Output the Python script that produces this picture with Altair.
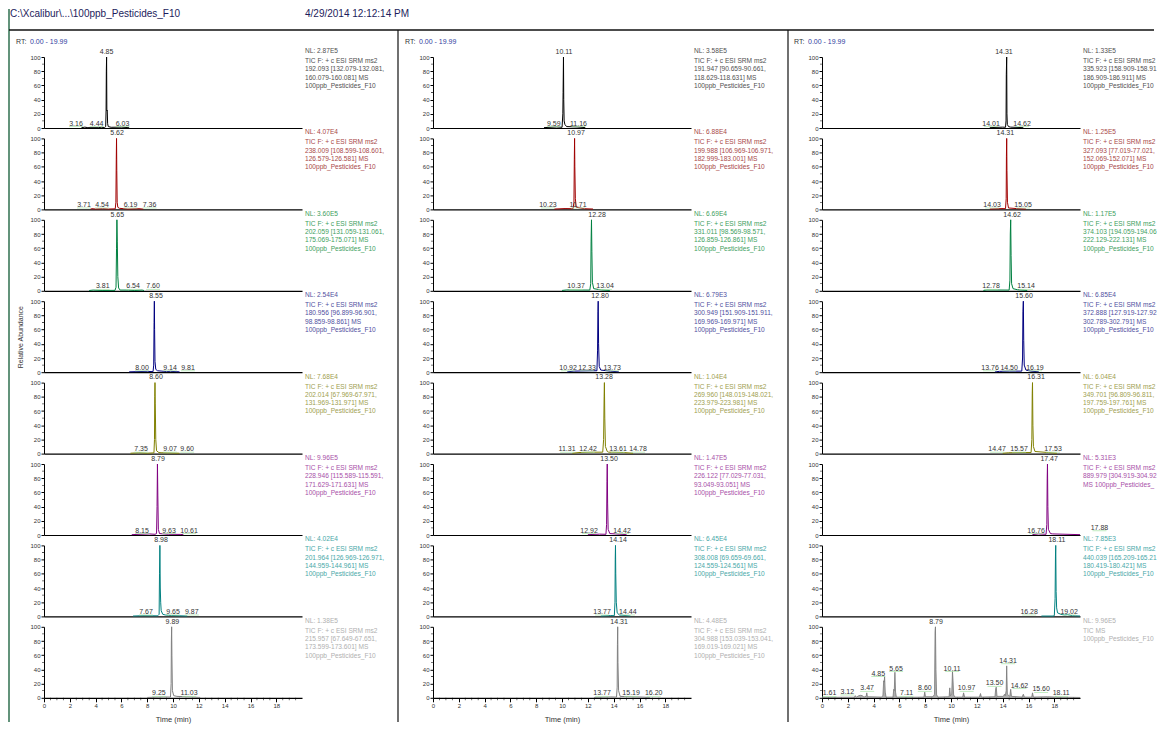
import altair as alt
import pandas as pd

FONT = "Liberation Sans"
W, H = 258, 71
XMAX = 19.99

TRACE_COLORS = ["#000000", "#a00000", "#008040", "#000080", "#808000", "#800080", "#008080", "#808080"]
TEXT_COLORS = ["#505050", "#a84848", "#40a060", "#5050a0", "#a0a050", "#a850a8", "#48a8a8", "#b0b0b0"]
LABEL_COLOR = "#333333"

X_MAJOR = [0, 2, 4, 6, 8, 10, 12, 14, 16, 18]
X_MINOR = [0.5, 1, 1.5, 2.5, 3, 3.5, 4.5, 5, 5.5, 6.5, 7, 7.5, 8.5, 9, 9.5, 10.5, 11, 11.5,
           12.5, 13, 13.5, 14.5, 15, 15.5, 16.5, 17, 17.5, 18.5, 19, 19.5]
Y_MAJOR = [0, 20, 40, 60, 80, 100]
Y_MINOR = [10, 30, 50, 70, 90]

HEADER_FILE = "C:\\Xcalibur\\...\\100ppb_Pesticides_F10"
HEADER_DATE = "4/29/2014 12:12:14 PM"
RT_PREFIX = "RT:"
RT_RANGE = "0.00 - 19.99"

# ---------------- column 1 ----------------
C1R1_TRACE = [[2.9, 0.4], [3.16, 1.2], [3.4, 0.5], [4.2, 0.5], [4.44, 1.0], [4.7, 0.6], [4.78, 2], [4.81, 25], [4.83, 80], [4.85, 100], [4.87, 24], [4.90, 25], [4.93, 6], [4.98, 2], [5.2, 1], [6.03, 1.2], [6.6, 0.4]]
C1R2_TRACE = [[3.6, 0.4], [3.71, 1], [4.0, 0.5], [4.54, 1], [5.0, 0.5], [5.52, 0.8], [5.57, 10], [5.60, 70], [5.62, 100], [5.64, 55], [5.67, 10], [5.72, 3], [5.85, 1.5], [6.19, 1], [6.5, 0.5], [7.36, 1], [7.7, 0.4]]
C1R3_TRACE = [[3.5, 0.4], [3.81, 1], [4.5, 0.5], [5.5, 0.6], [5.58, 5], [5.62, 60], [5.65, 100], [5.68, 70], [5.72, 20], [5.78, 4], [5.9, 1], [6.54, 1], [7.0, 0.5], [7.60, 1], [7.75, 0.4]]
C1R4_TRACE = [[6.6, 0.5], [8.0, 1.2], [8.45, 0.8], [8.50, 10], [8.53, 70], [8.55, 100], [8.57, 60], [8.60, 15], [8.66, 4], [8.8, 2], [9.14, 1.5], [9.5, 0.8], [9.81, 1.2], [10.5, 0.5]]
C1R5_TRACE = [[6.7, 0.5], [7.35, 1.2], [8.0, 0.6], [8.52, 1], [8.56, 20], [8.58, 80], [8.60, 100], [8.62, 70], [8.66, 20], [8.72, 4], [8.9, 1.5], [9.07, 1.2], [9.60, 1], [10.5, 0.5]]
C1R6_TRACE = [[6.8, 0.5], [8.15, 1.5], [8.6, 1], [8.72, 2], [8.76, 40], [8.79, 100], [8.82, 55], [8.86, 8], [8.95, 2], [9.63, 1], [10.61, 0.8], [10.8, 0.5]]
C1R7_TRACE = [[6.9, 0.5], [7.67, 1], [8.8, 0.8], [8.92, 3], [8.95, 60], [8.98, 100], [9.01, 40], [9.04, 20], [9.08, 8], [9.2, 3], [9.4, 2], [9.65, 1.5], [9.87, 1.2], [11.1, 0.5]]
C1R8_TRACE = [[8.0, 0.5], [9.25, 1.2], [9.8, 1], [9.85, 20], [9.87, 80], [9.89, 100], [9.91, 60], [9.95, 10], [10.05, 3], [10.3, 2], [11.03, 1.5], [12.1, 0.5]]

C1R1_PEAKS = [("3.16", 2.48, 2), ("4.44", 4.08, 2), ("4.85", 4.85, 103), ("6.03", 6.08, 2)]
C1R2_PEAKS = [("3.71", 3.10, 2), ("4.54", 4.50, 2), ("5.62", 5.66, 103), ("6.19", 6.70, 2), ("7.36", 8.18, 2)]
C1R3_PEAKS = [("3.81", 4.55, 2), ("5.65", 5.68, 103), ("6.54", 6.90, 2), ("7.60", 8.45, 2)]
C1R4_PEAKS = [("8.00", 7.60, 2), ("8.55", 8.68, 103), ("9.14", 9.77, 2), ("9.81", 11.16, 2)]
C1R5_PEAKS = [("7.35", 7.52, 2), ("8.60", 8.68, 103), ("9.07", 9.77, 2), ("9.60", 11.09, 2)]
C1R6_PEAKS = [("8.15", 7.60, 2), ("8.79", 8.84, 103), ("9.63", 9.69, 2), ("10.61", 11.24, 2)]
C1R7_PEAKS = [("7.67", 7.90, 2), ("8.98", 9.07, 103), ("9.65", 10.0, 2), ("9.87", 11.45, 2)]
C1R8_PEAKS = [("9.25", 8.90, 2), ("9.89", 9.95, 103), ("11.03", 11.24, 2)]

C1_NL = ["NL: 2.87E5", "NL: 4.07E4", "NL: 3.60E5", "NL: 2.54E4", "NL: 7.68E4", "NL: 9.96E5", "NL: 4.02E4", "NL: 1.38E5"]
C1_INFO = [
    ["TIC F: + c ESI SRM ms2", "192.093 [132.079-132.081,", "160.079-160.081]  MS", "100ppb_Pesticides_F10"],
    ["TIC F: + c ESI SRM ms2", "238.009 [108.599-108.601,", "126.579-126.581]  MS", "100ppb_Pesticides_F10"],
    ["TIC F: + c ESI SRM ms2", "202.059 [131.059-131.061,", "175.069-175.071]  MS", "100ppb_Pesticides_F10"],
    ["TIC F: + c ESI SRM ms2", "180.956 [96.899-96.901,", "98.859-98.861]  MS", "100ppb_Pesticides_F10"],
    ["TIC F: + c ESI SRM ms2", "202.014 [67.969-67.971,", "131.969-131.971]  MS", "100ppb_Pesticides_F10"],
    ["TIC F: + c ESI SRM ms2", "228.946 [115.589-115.591,", "171.629-171.631]  MS", "100ppb_Pesticides_F10"],
    ["TIC F: + c ESI SRM ms2", "201.964 [126.969-126.971,", "144.959-144.961]  MS", "100ppb_Pesticides_F10"],
    ["TIC F: + c ESI SRM ms2", "215.957 [67.649-67.651,", "173.599-173.601]  MS", "100ppb_Pesticides_F10"],
]

# ---------------- column 2 ----------------
C2R1_TRACE = [[8.6, 0.5], [9.59, 1.5], [10.0, 1], [10.06, 20], [10.08, 50], [10.11, 100], [10.13, 40], [10.16, 10], [10.22, 5], [10.35, 2], [11.16, 1.5], [11.8, 0.5]]
C2R2_TRACE = [[9.4, 0.5], [10.23, 1.2], [10.85, 1], [10.92, 10], [10.95, 70], [10.97, 100], [10.99, 60], [11.03, 15], [11.1, 3], [11.71, 1], [12.4, 0.5]]
C2R3_TRACE = [[10.0, 0.5], [10.37, 1.2], [12.15, 1], [12.22, 10], [12.25, 70], [12.28, 100], [12.31, 55], [12.35, 12], [12.45, 3], [13.04, 1.2], [13.7, 0.5]]
C2R4_TRACE = [[10.4, 0.5], [10.92, 1.5], [12.33, 2], [12.70, 2], [12.75, 30], [12.78, 85], [12.80, 100], [12.83, 40], [12.88, 8], [13.0, 3], [13.73, 1.5], [14.4, 0.5]]
C2R5_TRACE = [[10.8, 0.5], [11.31, 1.5], [12.42, 2], [13.15, 2], [13.22, 20], [13.26, 80], [13.28, 100], [13.31, 50], [13.36, 10], [13.5, 3], [13.61, 2], [14.78, 1.5], [15.5, 0.5]]
C2R6_TRACE = [[12.0, 0.5], [12.92, 1.2], [13.40, 1], [13.45, 15], [13.48, 75], [13.50, 100], [13.53, 45], [13.57, 8], [13.7, 2], [14.42, 1.2], [15.0, 0.5]]
C2R7_TRACE = [[13.0, 0.5], [13.77, 1.2], [14.05, 1], [14.10, 20], [14.12, 80], [14.14, 100], [14.16, 60], [14.20, 20], [14.27, 5], [14.44, 2], [15.3, 0.5]]
C2R8_TRACE = [[12.5, 0.5], [13.77, 1.2], [14.22, 1], [14.27, 15], [14.29, 75], [14.31, 100], [14.33, 50], [14.38, 10], [14.5, 2], [15.19, 1.5], [16.20, 1], [16.8, 0.5]]

C2R1_PEAKS = [("9.59", 9.36, 2), ("10.11", 10.15, 103), ("11.16", 11.27, 2)]
C2R2_PEAKS = [("10.23", 8.91, 2), ("10.97", 11.09, 103), ("11.71", 11.24, 2)]
C2R3_PEAKS = [("10.37", 11.09, 2), ("12.28", 12.71, 103), ("13.04", 13.33, 2)]
C2R4_PEAKS = [("10.92", 10.47, 2), ("12.33", 11.94, 2), ("12.80", 12.95, 103), ("13.73", 13.88, 2)]
C2R5_PEAKS = [("11.31", 10.39, 2), ("12.42", 12.02, 2), ("13.28", 13.26, 103), ("13.61", 14.34, 2), ("14.78", 15.89, 2)]
C2R6_PEAKS = [("12.92", 12.09, 2), ("13.50", 13.64, 103), ("14.42", 14.65, 2)]
C2R7_PEAKS = [("13.77", 13.10, 2), ("14.14", 14.34, 103), ("14.44", 15.10, 2)]
C2R8_PEAKS = [("13.77", 13.10, 2), ("14.31", 14.42, 103), ("15.19", 15.35, 2), ("16.20", 17.10, 2)]

C2_NL = ["NL: 3.58E5", "NL: 6.88E4", "NL: 6.69E4", "NL: 6.79E3", "NL: 1.04E4", "NL: 1.47E5", "NL: 6.45E4", "NL: 4.48E5"]
C2_INFO = [
    ["TIC F: + c ESI SRM ms2", "191.947 [90.659-90.661,", "118.629-118.631]  MS", "100ppb_Pesticides_F10"],
    ["TIC F: + c ESI SRM ms2", "199.988 [106.969-106.971,", "182.999-183.001]  MS", "100ppb_Pesticides_F10"],
    ["TIC F: + c ESI SRM ms2", "331.011 [98.569-98.571,", "126.859-126.861]  MS", "100ppb_Pesticides_F10"],
    ["TIC F: + c ESI SRM ms2", "300.949 [151.909-151.911,", "169.969-169.971]  MS", "100ppb_Pesticides_F10"],
    ["TIC F: + c ESI SRM ms2", "269.960 [148.019-148.021,", "223.979-223.981]  MS", "100ppb_Pesticides_F10"],
    ["TIC F: + c ESI SRM ms2", "226.122 [77.029-77.031,", "93.049-93.051]  MS", "100ppb_Pesticides_F10"],
    ["TIC F: + c ESI SRM ms2", "308.008 [69.659-69.661,", "124.559-124.561]  MS", "100ppb_Pesticides_F10"],
    ["TIC F: + c ESI SRM ms2", "304.988 [153.039-153.041,", "169.019-169.021]  MS", "100ppb_Pesticides_F10"],
]

# ---------------- column 3 ----------------
C3R1_TRACE = [[13.0, 0.5], [14.01, 1.2], [14.22, 1], [14.26, 10], [14.28, 75], [14.31, 100], [14.33, 20], [14.36, 5], [14.45, 2], [14.62, 1.2], [15.6, 0.5]]
C3R2_TRACE = [[13.0, 0.5], [14.03, 1.2], [14.22, 1], [14.27, 15], [14.29, 75], [14.31, 100], [14.33, 55], [14.37, 10], [14.45, 2], [15.05, 1.2], [15.8, 0.5]]
C3R3_TRACE = [[12.5, 0.5], [12.78, 1.2], [14.5, 1], [14.56, 15], [14.59, 80], [14.62, 100], [14.65, 50], [14.69, 10], [14.8, 3], [15.14, 1.5], [15.9, 0.5]]
C3R4_TRACE = [[13.4, 0.5], [13.76, 1.2], [14.50, 1.5], [15.48, 1.5], [15.54, 20], [15.57, 85], [15.60, 100], [15.63, 45], [15.67, 10], [15.8, 3], [16.19, 1.5], [16.8, 0.5]]
C3R5_TRACE = [[14.0, 0.5], [14.47, 1.2], [15.57, 1.5], [16.2, 1.5], [16.26, 20], [16.29, 85], [16.31, 100], [16.34, 40], [16.38, 10], [16.5, 3], [17.53, 1.5], [18.2, 0.5]]
C3R6_TRACE = [[16.3, 0.5], [16.76, 1.5], [17.36, 1], [17.42, 15], [17.45, 80], [17.47, 100], [17.50, 40], [17.54, 8], [17.7, 2], [17.88, 1.5], [19.99, 0.5]]
C3R7_TRACE = [[17.0, 0.5], [17.9, 0.5], [18.0, 1], [18.06, 25], [18.09, 85], [18.11, 100], [18.14, 35], [18.18, 12], [18.25, 5], [18.5, 3], [18.8, 2], [19.02, 2.5], [19.4, 1], [19.99, 0.5]]
C3R8_TRACE = [[0.0, 0.5], [1.61, 0.8], [2.5, 0.8], [2.58, 3], [2.66, 0.8], [2.85, 3], [3.0, 3.5], [3.12, 3], [3.25, 1], [3.42, 2], [3.47, 7], [3.52, 1.5], [4.6, 1], [4.72, 3], [4.78, 24], [4.82, 22], [4.85, 30], [4.90, 8], [4.96, 1], [5.5, 1], [5.56, 12], [5.60, 10], [5.65, 36], [5.70, 8], [5.76, 1], [7.11, 0.8], [7.9, 1], [7.96, 8], [8.02, 1.5], [8.6, 1.5], [8.72, 5], [8.76, 93], [8.79, 100], [8.83, 40], [8.88, 4], [9.0, 1], [9.85, 1.5], [9.90, 14], [9.95, 3], [10.05, 5], [10.11, 37], [10.15, 25], [10.2, 4], [10.3, 1], [10.9, 1], [10.97, 7], [11.05, 1], [12.2, 1], [12.28, 6], [12.35, 1], [13.4, 1.5], [13.46, 13], [13.50, 15], [13.56, 2], [14.05, 2], [14.14, 5], [14.2, 3], [14.27, 10], [14.31, 45], [14.36, 5], [14.55, 2], [14.62, 12], [14.68, 2], [15.5, 1], [15.60, 5], [15.68, 1], [16.25, 1], [16.31, 7], [16.38, 1], [17.47, 1.5], [18.05, 1], [18.11, 2], [18.2, 1], [19.99, 0.5]]

C3R1_PEAKS = [("14.01", 13.10, 2), ("14.31", 14.10, 103), ("14.62", 15.50, 2)]
C3R2_PEAKS = [("14.03", 13.18, 2), ("14.31", 14.20, 103), ("15.05", 15.58, 2)]
C3R3_PEAKS = [("12.78", 13.10, 2), ("14.62", 14.73, 103), ("15.14", 15.81, 2)]
C3R4_PEAKS = [("13.76", 13.02, 2), ("14.50", 14.50, 2), ("15.60", 15.66, 103), ("16.19", 16.50, 2)]
C3R5_PEAKS = [("14.47", 13.57, 2), ("15.57", 15.27, 2), ("16.31", 16.59, 103), ("17.53", 17.90, 2)]
C3R6_PEAKS = [("16.76", 16.59, 2), ("17.47", 17.60, 103), ("17.88", 21.50, 6)]
C3R7_PEAKS = [("16.28", 16.05, 2), ("18.11", 18.20, 103), ("19.02", 19.15, 2)]
C3R8_PEAKS = [("1.61", 0.58, 2), ("3.12", 1.96, 4), ("3.47", 3.50, 9), ("4.85", 4.36, 30), ("5.65", 5.74, 37),
              ("7.11", 6.55, 2), ("8.60", 7.97, 9), ("8.79", 8.84, 103), ("10.11", 10.08, 37), ("10.97", 11.20, 9),
              ("13.50", 13.37, 16), ("14.31", 14.42, 48), ("14.62", 15.30, 13), ("15.60", 16.98, 7.5), ("18.11", 18.53, 2)]

C3_NL = ["NL: 1.33E5", "NL: 1.25E5", "NL: 1.17E5", "NL: 6.85E4", "NL: 6.04E4", "NL: 5.31E3", "NL: 7.85E3", "NL: 9.96E5"]
C3_INFO = [
    ["TIC F: + c ESI SRM ms2", "335.923 [158.909-158.911,", "186.909-186.911]  MS", "100ppb_Pesticides_F10"],
    ["TIC F: + c ESI SRM ms2", "327.093 [77.019-77.021,", "152.069-152.071]  MS", "100ppb_Pesticides_F10"],
    ["TIC F: + c ESI SRM ms2", "374.103 [194.059-194.061,", "222.129-222.131]  MS", "100ppb_Pesticides_F10"],
    ["TIC F: + c ESI SRM ms2", "372.888 [127.919-127.921,", "302.789-302.791]  MS", "100ppb_Pesticides_F10"],
    ["TIC F: + c ESI SRM ms2", "349.701 [96.809-96.811,", "197.759-197.761]  MS", "100ppb_Pesticides_F10"],
    ["TIC F: + c ESI SRM ms2", "889.979 [304.919-304.921]", "MS 100ppb_Pesticides_F10"],
    ["TIC F: + c ESI SRM ms2", "440.039 [165.209-165.211,", "180.419-180.421]  MS", "100ppb_Pesticides_F10"],
    ["TIC  MS", "100ppb_Pesticides_F10"],
]

TRACES = [
    [C1R1_TRACE, C1R2_TRACE, C1R3_TRACE, C1R4_TRACE, C1R5_TRACE, C1R6_TRACE, C1R7_TRACE, C1R8_TRACE],
    [C2R1_TRACE, C2R2_TRACE, C2R3_TRACE, C2R4_TRACE, C2R5_TRACE, C2R6_TRACE, C2R7_TRACE, C2R8_TRACE],
    [C3R1_TRACE, C3R2_TRACE, C3R3_TRACE, C3R4_TRACE, C3R5_TRACE, C3R6_TRACE, C3R7_TRACE, C3R8_TRACE],
]
PEAKS = [
    [C1R1_PEAKS, C1R2_PEAKS, C1R3_PEAKS, C1R4_PEAKS, C1R5_PEAKS, C1R6_PEAKS, C1R7_PEAKS, C1R8_PEAKS],
    [C2R1_PEAKS, C2R2_PEAKS, C2R3_PEAKS, C2R4_PEAKS, C2R5_PEAKS, C2R6_PEAKS, C2R7_PEAKS, C2R8_PEAKS],
    [C3R1_PEAKS, C3R2_PEAKS, C3R3_PEAKS, C3R4_PEAKS, C3R5_PEAKS, C3R6_PEAKS, C3R7_PEAKS, C3R8_PEAKS],
]
NLS = [C1_NL, C2_NL, C3_NL]
INFOS = [C1_INFO, C2_INFO, C3_INFO]

ONE = pd.DataFrame({"k": [0]})
INFO_SIZE = 6.6


def txt(text, x, y, size, color, align="left", baseline="middle", **kw):
    return alt.Chart(ONE).mark_text(text=text, align=align, baseline=baseline, fontSize=size,
                                    color=color, font=FONT, **kw).encode(x=alt.value(x), y=alt.value(y))


def vrule(x, y1, y2, color, w):
    return alt.Chart(ONE).mark_rule(color=color, strokeWidth=w).encode(
        x=alt.value(x), y=alt.value(y1), y2=alt.value(y2))


def hrule(x1, x2, y, color, w):
    return alt.Chart(ONE).mark_rule(color=color, strokeWidth=w).encode(
        x=alt.value(x1), x2=alt.value(x2), y=alt.value(y))


def make_panel(col, row):
    tc = TRACE_COLORS[row]
    txc = TEXT_COLORS[row]
    bottom = row == 7
    if bottom:
        xax = alt.Axis(values=X_MAJOR, labelFlush=False, labelOverlap=False, tickSize=4, labelPadding=1,
                       labelFontSize=6, title="Time (min)", titleFontSize=7.5, titleY=22,
                       titleBaseline="middle", domainWidth=1.2, format="d")
    else:
        xax = alt.Axis(ticks=False, labels=False, title=None, domainWidth=1.2)
    if col == 0 and row == 3:
        yax = alt.Axis(values=Y_MAJOR, tickSize=3, labelPadding=1, labelFontSize=6, labelOverlap=False,
                       title="Relative Abundance", titleAngle=270, titleX=-24, titleY=H / 2,
                       titleAlign="center", titleBaseline="middle", titleFontSize=7)
    else:
        yax = alt.Axis(values=Y_MAJOR, tickSize=3, labelPadding=1, labelFontSize=6, labelOverlap=False,
                       title=None)
    xs = alt.Scale(domain=[0, XMAX], nice=False, zero=False)
    ys = alt.Scale(domain=[0, 100], nice=False)

    tdf = pd.DataFrame(TRACES[col][row], columns=["t", "v"])
    if col == 2 and row == 7:
        trace = alt.Chart(tdf).mark_area(color="#8c8c8c", line={"color": "#777777", "strokeWidth": 0.8})
    else:
        trace = alt.Chart(tdf).mark_line(color=tc, strokeWidth=1)

    pdf = pd.DataFrame(PEAKS[col][row], columns=["lab", "t", "v"])
    under = alt.Chart(pdf).transform_filter("datum.v < 90").mark_tick(
        orient="horizontal", size=14, thickness=1, color="#a6e3a6")
    labels = alt.Chart(pdf).mark_text(baseline="bottom", fontSize=7, color=LABEL_COLOR, font=FONT).encode(
        text="lab:N")

    ymin = alt.Chart(pd.DataFrame({"v": Y_MINOR})).mark_tick(
        orient="horizontal", size=2, thickness=0.8, color="#000000").encode(x=alt.value(-1))

    lim = {"limit": 76, "ellipsis": " "} if col == 2 else {}
    nl = txt(NLS[col][row], W + 3, -6, INFO_SIZE, txc)
    info = txt(INFOS[col][row], W + 3, 1, INFO_SIZE, txc, baseline="top", lineHeight=8.3, **lim)

    layers = [trace, under, ymin, labels, nl, info]
    if bottom:
        layers.append(alt.Chart(pd.DataFrame({"t": X_MINOR})).mark_tick(
            orient="vertical", size=2.5, thickness=0.8, color="#000000").encode(y=alt.value(H + 1.25)))
    if row == 0:
        layers.append(txt(RT_PREFIX, -28, -15, 7, "#333333"))
        layers.append(txt(RT_RANGE, -14, -15, 7, "#3040a0"))
    if col == 0 and row == 0:
        layers += [
            vrule(-35, -48, 665, "#2f6f4f", 1.5),
            hrule(-35, 1110, -27, "#111111", 1.5),
            vrule(354, -27, 665, "#111111", 1.2),
            vrule(744, -27, 665, "#111111", 1.2),
            txt(HEADER_FILE, -34, -43.5, 10, "#1c1c5c"),
            txt(HEADER_DATE, 261, -43.5, 10, "#1c1c5c"),
        ]
    return alt.layer(*layers).encode(
        x=alt.X("t:Q", scale=xs, axis=xax),
        y=alt.Y("v:Q", scale=ys, axis=yax),
    ).properties(width=W, height=H)


panels = []
for r in range(8):
    for c in range(3):
        panels.append(make_panel(c, r))

chart = alt.concat(*panels, columns=3, spacing={"row": 10.4, "column": 131}, bounds="flush").properties(
    padding=0
).configure_view(stroke=None).configure_axis(
    domainColor="#000000", tickColor="#000000", labelColor="#333333", titleColor="#333333",
    labelFont=FONT, titleFont=FONT, titleFontWeight="normal", grid=False
)

chart.save("out.html", embed_options={"renderer": "svg", "actions": False})
